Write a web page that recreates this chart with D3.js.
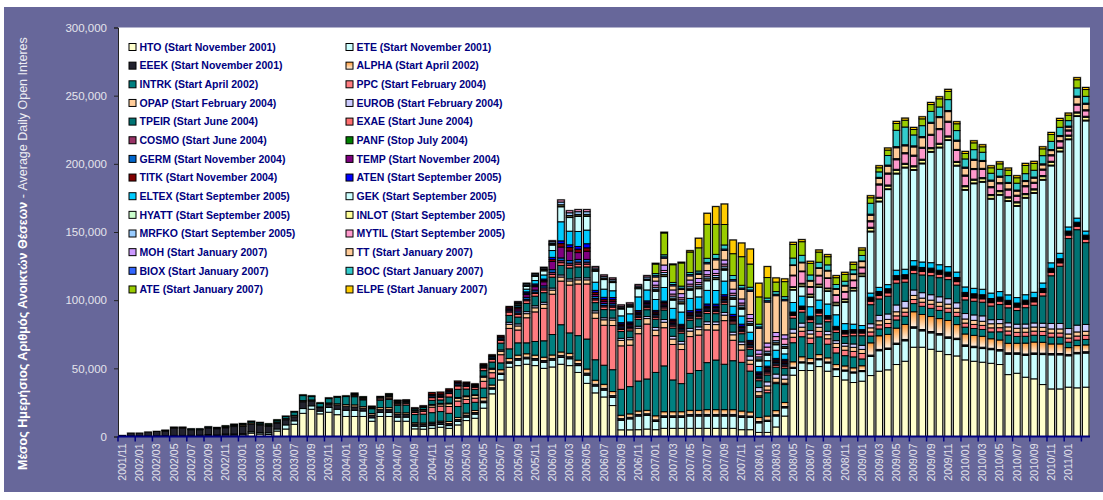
<!DOCTYPE html>
<html>
<head>
<meta charset="utf-8">
<script src="https://cdn.jsdelivr.net/npm/d3@7"></script>
<style>
  body { margin: 0; background: #fff; }
  svg text { font-family: Arial, "Liberation Sans", sans-serif; }
</style>
</head>
<body>
<svg id="chart" width="1103" height="500"></svg>
<script>
// monthly categories, 2001/11 .. 2011/03
var months = d3.utcMonths(new Date(Date.UTC(2001, 10, 1)), new Date(Date.UTC(2011, 3, 1)))
    .map(d3.utcFormat("%Y/%m"));

var yTicks = [0, 50000, 100000, 150000, 200000, 250000, 300000];

// average daily open interest, thousands of contracts
// every list starts at the product's first month
var HTO = [0.2,0.3,0.3,0.3,0.4,0.4,0.5,0.5,0.5,0.6,0.8,0.6,1.0,1.0,1.2,2.5,1.8,1.5,4.0,5.5,9.0,
  17,20,16.6,17.8,16,14.7,14.7,14.7,11.2,14.7,14.7,11.2,11.2,5.6,5.4,6,6.8,6,8.5,11.7,13.4,20.8,31.3,41.5,50.8,
  52,53,52,50,51,53,52,47,39,32,29,22.7,4.9,4.9,5,5.5,
  5,6,6,6,6,6,6,6,6,6,5,5,3,3,7,15,
  45,48.4,48.4,51.3,47.9,44,41.5,39.6,40.6,
  44.7,47.9,48.9,52.8,55.2,65.5,65.5,64,62.5,60.1,59.1,56.2,55.2,54.5,53.7,52.8,45.4,46.4,43.5,42.3,38.1,34.9,34.9,36.2,35.7,36.2];
var ETE = [0.1,0.2,0.2,0.2,0.2,0.3,0.3,0.3,0.4,0.4,0.6,0.5,0.8,0.8,0.8,1.0,1.0,1.2,1.5,3.0,2.5,
  3.5,2.5,2,3.5,4,4.5,4.5,4,2.5,3,3,3,3,2,2,2,2,2,2.5,2.5,3,4,3.5,4,3,
  4,4,4,4.5,5,5,5,5,6,5,5,6,7,8,10,10,
  6,8,8,8,9,9,9,9,9,9,9,9,7,8,8,6,
  5,5.6,5,5,6,5,6.5,7,7,
  14,15,15,14.7,15,14,12,12,12,12,12,10,10,10,10,10,15,14,16,18,22,25,25,23,25,25];
var EEEK = [0.4,1.9,1.9,2.7,3.1,3.4,5.3,5.3,4.1,4.0,4.8,4.6,4.6,5.5,5.4,5.4,5.4,4.7,4.4,3.8,3.0,
  5,3.5,2.6,2.5,3,3,2.5,2,2,2,2,2,2,1.5,1.5,1.5,1.5,1.5,1.5,1.5,1.2,1.2,1,1,1,
  1.2,1.2,1.2,1.2,1.3,1.5,1.5,1.5,1.5,1.3,1.3,1.3,1.2,1.2,1.2,1.2,
  1.2,1.2,1.2,1.2,1.2,1.2,1.2,1.2,1.2,1.2,1.2,1,1,1,1,1,
  0.8,0.8,0.8,0.8,0.8,0.8,0.8,0.8,0.8,
  1,1,1,1,1,1,1,1,1,1,1,1,1,1,1,1,1,1,1,1,1,1,1,1,1,1];
var ALPHA = [0.3,0.4,0.4,0.3,0.3,0.5,0.5,0.6,0.8,1.0,1.0,0.8,0.6,0.8,0.8,1.0,
  0.8,0.8,0.5,0.8,1,1.2,1.5,1.2,1.2,1.5,1.5,1.2,1.2,1,1,1,1,1.5,1.5,1.5,1.5,2.5,2,2.5,2.5,
  2.5,2.5,2.5,2.5,2.5,2.5,2.5,2.5,3,3,3,3,2.5,2.5,2.5,2.5,
  3,3,3,3,3,3,3.5,3.5,3.5,3.5,3.5,3,3,3,3,3,
  4,3.7,3,3,3,3,3,3,3.5,
  9,10,10,11,11,11,11,11,11,12,10,8,8,8,7,7,7,7,8,8,8,7,7,5,5,5];
var INTRK = [0.2,0.3,0.3,0.3,0.3,0.4,0.4,0.5,0.6,0.8,1.0,1.0,1.0,1.2,1.5,2.5,
  3.7,2.5,2.5,3.2,4.8,5.9,6,5,3.5,5.5,6,5.5,5.7,6,6.5,7,7,6,8,7,6,7,5,5,7,
  9,8,10,12,15,20,15,18,22,15,14,16,19,20,22,23,
  31.8,33.6,23.3,20.6,27.1,29.2,34.5,36.4,33.3,35.9,35.7,30,14.9,17.1,19.8,13.1,
  14,14.7,11,13,10,8.5,7.5,8,5,
  5,5,5,6,6,6,6,6,6,6,6,5,5,5,5,6,6,5,5,5,5,5,5,4,4,4];
var PPC = [0.8,0.8,0.6,1,1,1,1.2,1.5,2,4,4,5,4,3,3,5,4,6,15,
  9.4,18.4,21.7,23.8,29.6,32,35.1,37.9,40.4,30.4,29.3,32.4,31.9,30.4,34.7,40.3,
  27,28,26,25,27,26,24,22,32,15,9,5,1,2,1,1,
  4,4,4,4,4,4,4,4,4,
  3,3,3,3,3,3,3,3,3,3,3,3,3,3,3,3,3,3,3,3,3,3,3,3,3,3];
var OPAP = [0.8,0.8,0.6,1,1,0.8,0.8,1,1,1.5,1.5,2,2,2,2,3,2.5,2.5,3,
  3,3,3,3,3,3,3,3,3,4,4,4,4,4,4,4,
  4,4,4,4,4,4,4,4,4,4,4,3,3,3,3,3,
  3,3,3,3,3,3,3,3,3,
  3,3,3,3,3,3,3,3,3,3,3,3,3,3,3,3,3,3,3,3,3,3,3,3,3,3];
var EUROB = [0.5,0.4,0.4,0.4,0.4,0.4,0.4,0.4,0.4,0.5,0.5,0.5,0.6,0.6,0.5,0.8,0.8,1,1.5,
  1.5,1.5,1.5,1.5,1.5,1.5,1.5,1.5,1.5,1.5,1.5,1.5,1.5,1.5,1.5,1.5,
  2,2,2,2,2,2,2,2,2,2,2,3,3,3,3,3,
  3,3,2.5,2.5,2.5,2,2,2.5,3,
  3,4,4,5,5,4,4,4,4,4,4,4,4,4,3,3,3,3,3,3,3,4,4,4,5,5];
var TPEIR = [0.8,0.8,0.8,1.2,1.5,3,2.5,4.5,6,5,4,4,4.5,5,5,
  5,6,7,7,8,7,8,8,8,6,6,6,5,5,5,5,
  6,7,6,6,6,6,6,6,6,6,6,5,5,5,5,5,
  8,8,6,6,7,6,5,6,7,
  14,12,13,16,14,12,13,14,14,14,13,10,10,10,10,11,11,10,12,13,20,35,42,66,70,60];
var EXAE = [0.4,0.3,0.3,0.5,0.8,2,2,2.5,2.5,2,1.5,2,2,2,2.5,
  2,2,2,2,2,2,2,2,2,2,2,2,1.5,1.5,1.5,1.5,
  1.5,1.5,1.5,1.5,1.5,1.5,1.5,1.5,1.5,1.5,1.5,1.5,1.5,1.5,1.5,1.5,
  2,2,2,2,2,2,2,2,2,
  2.5,2.5,2.5,2.5,2.5,2.5,2.5,2.5,2.5,2.5,2.5,2.5,2.5,2.5,2.5,2.5,2.5,2.5,2.5,2.5,2.5,2.5,2.5,2.5,2.5,2.5];
var COSMO = [0.3,0.2,0.2,0.3,0.4,0.5,0.5,0.6,0.6,0.5,0.5,0.8,0.8,0.8,1,
  1,1,1,1.5,1.5,1.5,1.5,1.5,1.5,1,1,1,1,1,1,1,
  1,1,1,1,1,1,1,1,1,1,1,1,1,1,1,1,
  0.5,0.5,0.5,0.5,0.5,0.5,0.5,0.5,0.5,
  0.6,0.6,0.6,0.6,0.6,0.6,0.6,0.6,0.6,0.6,0.6,0.6,0.6,0.6,0.6,0.6,0.6,0.6,0.6,0.6,0.6,0.6,0.6,0.6,0.6,0.6];
var PANF = [0,0,0,0,0,0,0,0,0,0,0,0,0.3,0.3,0.3,0.3,0.3,0.3,0.3,0.3,0.3,
  0.5,0.5,0.5,0.5,0.5,0.5,0.5,0.2,0.2,0.2,0.2,0.2];
var GERM = [1,1,1,1,1,0.8,0.8,1,1,1,
  1.5,1.5,1.5,1.5,2,2,2,2,2,1.5,1.5,1.5,1,1,1,1,
  1,1,1,1,1,1,1,1,1,1,1,1,1,1,1,1,
  0.5,0.5,0.5,0.5,0.5,0.5,0.5,0.5,0.5,
  0.6,0.6,0.6,0.6,0.6,0.6,0.6,0.6,0.6,0.6,0.6,0.6,0.6,0.6,0.6,0.6,0.6,0.6,0.6,0.6,0.6,0.6,0.6,0.6,0.6,0.6];
var TEMP = [0.8,0.8,0.8,0.9,0.7,0.6,0.6,0.7,0.8,1,
  1.5,2,2.5,3,6,8,7,5,6,1.5,1.5,1.5,1,1,1,1,
  1,1,1,1,1,1,1,1,1,1,1,1,1,1,1,1,
  0.5,0.5,0.5,0.5,0.5,0.5,0.5,0.5,0.5,
  0.6,0.6,0.6,0.6,0.6,0.6,0.6,0.6,0.6,0.6,0.6,0.6,0.6,0.6,0.6,0.6,0.6,0.6,0.6,0.6,0.6,0.6,0.6,0.6,0.6,0.6];
var TITK = [1.4,1.4,1,1,0.8,0.6,0.8,0.8,0.9,1,
  1,1,1,1,1.5,2.5,2.5,2.5,2.5,1.5,1.5,1.5,1,1,1,1,
  1,1,1,1,1,1,1,1,1,1,1,1,1,1,1,1,
  0.5,0.5,0.5,0.5,0.5,0.5,0.5,0.5,0.5,
  0.6,0.6,0.6,0.6,0.6,0.6,0.6,0.6,0.6,0.6,0.6,0.6,0.6,0.6,0.6,0.6,0.6,0.6,0.6,0.6,0.6,0.6,0.6,0.6,0.6,0.6];
var ATEN = [0.5,1,1,1,1.5,2,2,2,3,1.5,1.5,1.5,1,1,1,1,
  1,1,1,1,1.5,1.5,1.5,1.5,1.5,1.5,1.5,1,1,1,1,1,
  0.5,0.5,0.5,0.5,0.5,0.5,0.5,0.5,0.5,
  0.6,0.6,0.6,0.6,0.6,0.6,0.6,0.6,0.6,0.6,0.6,0.6,0.6,0.6,0.6,0.6,0.6,0.6,0.6,0.6,0.6,0.6,0.6,0.6,0.6,0.6];
var ELTEX = [1,2,2.5,3,5,14,10,11,10,6,6,5,5,6,10,8,
  8,10,8,9,9,9,10,10,10,6,6,6,4,4,6,4,
  7,7.3,7,7,8.5,8.5,5,4,3,
  3,3,3,4,4,4,4,4,4,4,4,4,4,4,4,4,4,4,4,4,4,4,4,3,3,3];
var GEK = [1,2,3,3,4,11,10,11,10,8,7,6,5,5,6,7,
  6,8,6,6,6,6,7,8,8,5,5,5,4,4,4,4,
  9.1,6.9,6.8,9.2,9.2,6.7,15.6,24.4,35.9,
  44.9,62.7,69.7,70.6,74.3,66.2,72,81,85.7,92.5,77.8,70.9,76.7,78.5,68.9,70.7,68.5,66.9,70.8,72.5,75.4,71.1,74.4,64,74.5,80.8];
var HYATT = [0.3,0.3,0.3,0.4,0.4,0.5,0.5,0.5,0.5,0.4,0.4,0.4,0.4,0.4,0.4,0.4,
  0.5,0.5,0.5,0.5,0.5,0.5,0.5,0.5,0.5,0.5,0.5,0.5,0.5,0.5,0.5,0.5,
  0.5,0.5,0.5,0.5,0.5,0.5,0.5,0.5,0.5,
  0.6,0.6,0.6,0.6,0.6,0.6,0.6,0.6,0.6,0.6,0.6,0.6,0.6,0.6,0.6,0.6,0.6,0.6,0.6,0.6,0.6,0.6,0.6,0.6,0.6,0.6];
var INLOT = [0.5,0.5,0.5,0.6,0.8,1,1,1,1,0.8,0.8,0.8,0.6,0.6,0.6,0.6,
  1,1,1,1,1,1,1,1,1,1,1,1,1,1,1,1,
  1.5,1.5,1.5,1.5,1.5,1.5,1.5,1.5,1.5,
  2,2,2,2,2,2,2,2,2,2,2,2,2,2,2,2,2,2,2,2,2,2,2,2,2,2];
var MRFKO = [0.5,1,1,1,1.2,2,2,2,2,1.2,1.2,1.2,1,1,1,1.5,
  1.5,1.5,1.5,1.5,1.5,1.5,1.5,1.5,1.5,1.5,1.5,1.5,1.5,1.5,1.5,1.5,
  0.5,0.5,0.5,0.5,0.5,0.5,0.5,0.5,0.5,
  0.8,0.8,0.8,0.8,0.8,0.8,0.8,0.8,0.8,0.8,0.8,0.8,0.8,0.8,0.8,0.8,0.8,0.8,0.8,0.8,0.8,0.8,0.8,0.8,0.8,0.8];
var MYTIL = [0.5,0.5,0.5,0.6,0.8,1.5,1.5,1.5,1.5,1,1,1,1,1,1,1,
  1.5,1.5,1.5,1.5,1.5,1.5,1.5,1.5,1.5,1.5,1.5,2,2,3,3,4,
  8,8.5,5,6,7,5,5,5,4,
  4,9,8,7,7,7,8,9,10,10,8,7,7,6,5,5,5,4,5,4,4,4,4,3,5,4];
var MOH = [3,4,3,3,3,3,3,3,3,3,3,3,3,3,3,3,
  0.5,0.5,0.5,0.5,0.5,0.5,0.5,0.5,0.5,
  0.8,0.8,0.8,0.8,0.8,0.8,0.8,0.8,0.8,0.8,0.8,0.8,0.8,0.8,0.8,0.8,0.8,0.8,0.8,0.8,0.8,0.8,0.8,0.8,0.8,0.8];
var TT = [3,5,3,3,3,3,5,7,7,6,7,17,16,30,27,25,
  7,6,4,5,5,4,4,4,4,
  4,4,5,8,5,6,7,8,8,7,6,5,6,5,4,4,4,3,3,3,3,3,3,2,5,4];
var BIOX = [1,1,1,1,1,1,1,1,1,1,1,1,1,1,1,1,
  0.5,0.5,0.5,0.5,0.5,0.5,0.5,0.5,0.5,
  0.8,0.8,0.8,0.8,0.8,0.8,0.8,0.8,0.8,0.8,0.8,0.8,0.8,0.8,0.8,0.8,0.8,0.8,0.8,0.8,0.8,0.8,0.8,0.8,0.8,0.8];
var BOC = [1.5,1.5,1.5,1.5,1.5,1.5,3,3,3,3,2,2,2,2,2,2,
  5,5,4,4,4,3,3,3,4,
  8,4,7,12,13,8,8,8,7,8,7,6,7,6,5,5,5,5,5,5,6,6,6,4,6,5];
var ATE = [7,16,13,17,15,17,25,22,15,16,21,17,20,15,7,11,
  10,10,8.5,7.5,6,5,5,4,4,
  4,3,4,5,5,4,5,5,6,6,5,4,5,4,4,4,4,4,6,5,5,5,5,4,6,5];
var ELPE = [0.5,0.5,0.5,0.5,1,7,8,13,15,10,10,11,10,8,3,2,
  1.5,1.5,1.5,1.5,1.5,1.5,1.5,1.5,1.5,
  1.5,1.5,1.5,1.5,1.5,1.5,1.5,1.5,1.5,1.5,1.5,1.5,1.5,1.5,1.5,1.5,1.5,1.5,1.5,1.5,1.5,1.5,1.5,1.5,1.5,1.5];

// stacking order = legend order (row by row)
var series = [
  {key: "HTO",   label: "HTO (Start November 2001)",    start: "2001/11", color: "#FFFFCC", values: HTO},
  {key: "ETE",   label: "ETE (Start November 2001)",    start: "2001/11", color: "#CCFFFF", values: ETE},
  {key: "EEEK",  label: "EEEK (Start November 2001)",   start: "2001/11", color: "#22222E", values: EEEK},
  {key: "ALPHA", label: "ALPHA (Start April 2002)",     start: "2002/04", color: "url(#gAlpha)", values: ALPHA},
  {key: "INTRK", label: "INTRK (Start April 2002)",     start: "2002/04", color: "#008080", values: INTRK},
  {key: "PPC",   label: "PPC (Start February 2004)",    start: "2004/02", color: "#FF7C80", values: PPC},
  {key: "OPAP",  label: "OPAP (Start February 2004)",   start: "2004/02", color: "#FFCC99", values: OPAP},
  {key: "EUROB", label: "EUROB (Start February 2004)",  start: "2004/02", color: "#CCCCFF", values: EUROB},
  {key: "TPEIR", label: "TPEIR (Start June 2004)",      start: "2004/06", color: "#007373", values: TPEIR},
  {key: "EXAE",  label: "EXAE (Start June 2004)",       start: "2004/06", color: "#FF6F6F", values: EXAE},
  {key: "COSMO", label: "COSMO (Start June 2004)",      start: "2004/06", color: "#993366", values: COSMO},
  {key: "PANF",  label: "PANF (Stop July 2004)",        start: "2001/11", color: "#008000", values: PANF},
  {key: "GERM",  label: "GERM (Start November 2004)",   start: "2004/11", color: "#0066CC", values: GERM},
  {key: "TEMP",  label: "TEMP (Start November 2004)",   start: "2004/11", color: "#800080", values: TEMP},
  {key: "TITK",  label: "TITK (Start November 2004)",   start: "2004/11", color: "#800000", values: TITK},
  {key: "ATEN",  label: "ATEN (Start September 2005)",  start: "2005/09", color: "#0000FF", values: ATEN},
  {key: "ELTEX", label: "ELTEX (Start September 2005)", start: "2005/09", color: "#00CCFF", values: ELTEX},
  {key: "GEK",   label: "GEK (Start September 2005)",   start: "2005/09", color: "#CCFFFF", values: GEK},
  {key: "HYATT", label: "HYATT (Start September 2005)", start: "2005/09", color: "#CCFFCC", values: HYATT},
  {key: "INLOT", label: "INLOT (Start September 2005)", start: "2005/09", color: "#FFFF99", values: INLOT},
  {key: "MRFKO", label: "MRFKO (Start September 2005)", start: "2005/09", color: "#99CCFF", values: MRFKO},
  {key: "MYTIL", label: "MYTIL (Start September 2005)", start: "2005/09", color: "#FF99CC", values: MYTIL},
  {key: "MOH",   label: "MOH (Start January 2007)",     start: "2007/01", color: "#CC99FF", values: MOH},
  {key: "TT",    label: "TT (Start January 2007)",      start: "2007/01", color: "#FFCC99", values: TT},
  {key: "BIOX",  label: "BIOX (Start January 2007)",    start: "2007/01", color: "#3366FF", values: BIOX},
  {key: "BOC",   label: "BOC (Start January 2007)",     start: "2007/01", color: "#33CCCC", values: BOC},
  {key: "ATE",   label: "ATE (Start January 2007)",     start: "2007/01", color: "#99CC00", values: ATE},
  {key: "ELPE",  label: "ELPE (Start January 2007)",    start: "2007/01", color: "#FFCC00", values: ELPE}
];

// one row per month, zero before a product starts / after it stops
var rows = months.map(function(m, j) {
  var r = {month: m};
  series.forEach(function(s) {
    var v = s.values[j - months.indexOf(s.start)];
    r[s.key] = (v == null ? 0 : v) * 1000;
  });
  return r;
});

var keys = series.map(function(s) { return s.key; });
var color = {};
series.forEach(function(s) { color[s.key] = s.color; });
var stacked = d3.stack().keys(keys)(rows);

var svg = d3.select("#chart");

var defs = svg.append("defs");
var grad = defs.append("linearGradient").attr("id", "gAlpha")
    .attr("x1", 0).attr("y1", 0).attr("x2", 0).attr("y2", 1);
grad.append("stop").attr("offset", "0%").attr("stop-color", "#FF9933");
grad.append("stop").attr("offset", "100%").attr("stop-color", "#FFF4E8");

// purple frame + white plot area
svg.append("rect").attr("x", 4).attr("y", 7).attr("width", 1099).attr("height", 485)
    .attr("fill", "#67679A");

var plotL = 118, plotR = 1090, plotT = 27.5, plotB = 436.5;
svg.append("rect").attr("x", plotL).attr("y", plotT)
    .attr("width", plotR - plotL).attr("height", plotB - plotT).attr("fill", "#fff");

var x = d3.scaleBand()
    .domain(months)
    .range([plotL, plotR])
    .paddingInner(0.24)
    .paddingOuter(0.12);
var y = d3.scaleLinear()
    .domain([0, 300000])
    .range([plotB, plotT]);

var bw = x.bandwidth();

// grey shadow behind each column
var totals = rows.map(function(r) { return d3.sum(keys, function(k) { return r[k]; }); });
svg.append("g").selectAll("rect")
    .data(months)
  .enter().append("rect")
    .attr("x", function(m) { return x(m) - 1; })
    .attr("y", function(m, i) { return y(totals[i]) - 1; })
    .attr("width", bw + 2)
    .attr("height", function(m, i) { return plotB - y(totals[i]) + 1; })
    .attr("fill", "#9a9a9a");

// stacked segments
svg.append("g").selectAll("g")
    .data(stacked)
  .enter().append("g")
    .attr("fill", function(d) { return color[d.key]; })
  .selectAll("rect")
    .data(function(d) { return d.filter(function(p) { return p[1] - p[0] > 0; }); })
  .enter().append("rect")
    .attr("x", function(p) { return x(p.data.month); })
    .attr("y", function(p) { return y(p[1]); })
    .attr("width", bw)
    .attr("height", function(p) { return y(p[0]) - y(p[1]); })
    .attr("stroke", "#000")
    .attr("stroke-width", 1);

// y axis
var yAxis = svg.append("g")
    .attr("transform", "translate(" + plotL + ",0)")
    .call(d3.axisLeft(y).tickValues(yTicks).tickSize(4).tickPadding(7).tickFormat(d3.format(",")));
yAxis.select(".domain").attr("stroke", "#222");
yAxis.selectAll(".tick line").attr("stroke", "#222");
yAxis.selectAll("text").attr("fill", "#E4E4EC").style("font-size", "11.5px");

// x axis: labels every second month, ticks between categories
var labelMonths = months.filter(function(m, i) { return i % 2 === 0 && m <= "2011/01"; });
var xAxis = svg.append("g")
    .attr("transform", "translate(0," + plotB + ")")
    .call(d3.axisBottom(x).tickValues(labelMonths).tickSize(0));
xAxis.select(".domain").remove();
xAxis.selectAll("text")
    .attr("fill", "#E4E4EC")
    .style("font-size", "10.5px")
    .attr("transform", "rotate(-90)")
    .attr("x", -7)
    .attr("y", 0)
    .attr("dy", "0.35em")
    .attr("text-anchor", "end");

var gap = (x.step() - bw) / 2;
svg.append("g").selectAll("line")
    .data(months.filter(function(m, i) { return i % 2 === 0; }))
  .enter().append("line")
    .attr("x1", function(m) { return x(m) - gap; })
    .attr("x2", function(m) { return x(m) - gap; })
    .attr("y1", plotB)
    .attr("y2", plotB + 5)
    .attr("stroke", "#000080")
    .attr("stroke-width", 1.5);
svg.append("line")
    .attr("x1", plotL).attr("x2", plotR)
    .attr("y1", plotB).attr("y2", plotB)
    .attr("stroke", "#000080").attr("stroke-width", 2);

// y axis title
var title = svg.append("text")
    .attr("transform", "translate(27,470) rotate(-90)")
    .attr("fill", "#fff")
    .style("font-size", "12px");
title.append("tspan").style("font-weight", "bold").text("Μέσος Ημερήσιος Αριθμός Ανοικτών Θέσεων");
title.append("tspan").attr("fill", "#EDEDF3").text(" - Average Daily Open Interes");
var len = title.node().getComputedTextLength();
title.style("font-size", (12 * 433 / len) + "px");

// legend, two columns
var legend = svg.append("g").selectAll("g")
    .data(series)
  .enter().append("g")
    .attr("transform", function(s, i) {
      return "translate(" + (i % 2 === 0 ? 129 : 346) + "," + (47 + 18.65 * Math.floor(i / 2)) + ")";
    });
legend.append("rect")
    .attr("x", 0).attr("y", -3.5)
    .attr("width", 7).attr("height", 7)
    .attr("fill", function(s) { return s.color; })
    .attr("stroke", "#000").attr("stroke-width", 1);
legend.append("text")
    .attr("x", 10.5)
    .attr("dy", "0.36em")
    .attr("fill", "#000080")
    .style("font-size", "10.5px")
    .style("font-weight", "bold")
    .text(function(s) { return s.label; });
</script>
</body>
</html>
